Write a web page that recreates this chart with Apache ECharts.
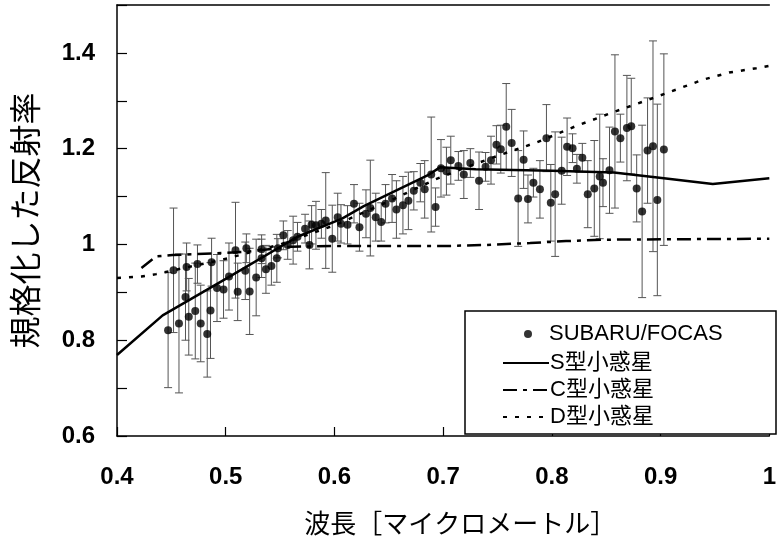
<!DOCTYPE html>
<html>
<head>
<meta charset="utf-8">
<script src="https://cdn.jsdelivr.net/npm/echarts@6/dist/echarts.min.js"></script>
<style>
html,body{margin:0;padding:0;background:#fff;}
#chart{width:779px;height:541px;}
</style>
</head>
<body>
<div id="chart"></div>
<script>
// ---- data ----
const xTickLabels = ['0.4','0.5','0.6','0.7','0.8','0.9','1'];
const yTickLabels = ['0.6','0.8','1','1.2','1.4'];

// SUBARU/FOCAS observations (wavelength, normalized reflectance, error)
const obsX = [0.447,0.452,0.457,0.463,0.464,0.466,0.472,0.474,0.477,0.483,0.486,0.487,0.492,0.498,
  0.503,0.509,0.511,0.518,0.519,0.522,0.528,0.533,0.533,0.537,0.542,0.547,0.548,0.553,0.557,0.562,
  0.566,0.573,0.577,0.579,0.583,0.588,0.592,0.598,0.603,0.606,0.612,0.618,0.623,0.629,0.633,0.638,
  0.643,0.647,0.653,0.657,0.663,0.668,0.673,0.679,0.683,0.689,0.693,0.698,0.703,0.707,0.714,0.719,
  0.725,0.733,0.739,0.744,0.749,0.753,0.758,0.763,0.769,0.774,0.778,0.783,0.789,0.795,0.799,0.803,
  0.809,0.814,0.819,0.823,0.828,0.833,0.839,0.844,0.847,0.853,0.858,0.863,0.869,0.873,0.878,0.883,
  0.888,0.893,0.897,0.903];
const obsY = [0.821,0.946,0.835,0.890,0.953,0.849,0.861,0.959,0.835,0.813,0.862,0.963,0.909,0.906,
  0.933,0.988,0.901,0.945,0.992,0.902,0.931,0.990,0.971,0.948,0.955,0.971,0.992,1.019,0.999,1.009,
  1.016,1.033,0.999,1.041,1.040,1.043,1.050,1.012,1.057,1.043,1.041,1.085,1.036,1.064,1.076,1.057,
  1.047,1.085,1.096,1.073,1.082,1.091,1.112,1.129,1.115,1.146,1.078,1.159,1.153,1.176,1.164,1.146,
  1.170,1.133,1.162,1.176,1.208,1.199,1.246,1.212,1.096,1.177,1.095,1.129,1.115,1.222,1.087,1.105,
  1.154,1.204,1.201,1.158,1.181,1.105,1.117,1.142,1.129,1.155,1.236,1.222,1.243,1.247,1.117,1.069,
  1.196,1.205,1.093,1.198];
const obsErr = [0.12,0.13,0.145,0.09,0.05,0.08,0.10,0.04,0.08,0.09,0.10,0.05,0.07,0.06,
  0.07,0.10,0.06,0.06,0.03,0.09,0.08,0.03,0.04,0.05,0.04,0.05,0.02,0.03,0.03,0.05,
  0.03,0.03,0.05,0.04,0.05,0.03,0.10,0.07,0.05,0.04,0.04,0.04,0.05,0.05,0.10,0.05,
  0.04,0.04,0.05,0.06,0.06,0.06,0.04,0.04,0.06,0.12,0.04,0.06,0.05,0.05,0.03,0.05,
  0.03,0.06,0.03,0.05,0.04,0.05,0.09,0.07,0.10,0.06,0.05,0.03,0.06,0.07,0.08,0.13,
  0.07,0.06,0.03,0.03,0.03,0.07,0.10,0.13,0.05,0.09,0.16,0.05,0.11,0.10,0.07,0.18,
  0.11,0.22,0.20,0.20];

// S-type asteroid spectrum
const sX = [0.40,0.442,0.50,0.566,0.607,0.627,0.687,0.697,0.73,0.80,0.857,0.903,0.948,1.00];
const sY = [0.769,0.852,0.928,1.016,1.054,1.080,1.146,1.161,1.157,1.154,1.150,1.138,1.126,1.138];
// C-type asteroid spectrum
const cX = [0.4225,0.436,0.451,0.487,0.52,0.56,0.60,0.707,0.74,0.78,0.813,0.85,1.00];
const cY = [0.951,0.975,0.978,0.981,0.985,0.995,0.997,0.997,0.999,1.003,1.007,1.010,1.012];
// D-type asteroid spectrum
const dX = [0.40,0.4225,0.436,0.50,0.55,0.60,0.65,0.693,0.72,0.75,0.786,0.822,0.855,0.891,0.939,0.963,0.988,1.00];
const dY = [0.930,0.933,0.938,0.970,1.000,1.040,1.090,1.136,1.160,1.185,1.213,1.247,1.275,1.304,1.344,1.359,1.368,1.373];

const names = {obs:'SUBARU/FOCAS', s:'S型小惑星', c:'C型小惑星', d:'D型小惑星'};

// ---- build ----
const zip = (a,b)=>a.map((v,i)=>[v,b[i]]);
const obsData = obsX.map((v,i)=>[v,obsY[i],obsErr[i]]);
const numFont = "'Liberation Sans',Arial,sans-serif";
const cjkFont = "'Liberation Sans','Noto Sans CJK JP',sans-serif";

const chart = echarts.init(document.getElementById('chart'), null, {renderer:'canvas'});
const option = {
  animation:false,
  backgroundColor:'#fff',
  grid:{left:117, top:5, right:2, bottom:101, containLabel:false},
  xAxis:[{
    type:'value', min:0.4, max:1.0, interval:0.1,
    axisLine:{show:true, onZero:false, lineStyle:{color:'#000', width:1.5}},
    axisTick:{show:true, inside:true, length:9, lineStyle:{color:'#000', width:1.2}},
    splitLine:{show:false},
    axisLabel:{margin:29, fontFamily:numFont, fontSize:24, fontWeight:'bold', color:'#000',
      formatter:v=>xTickLabels[Math.round((v-0.4)*10)] || ''},
    name:'波長［マイクロメートル］', nameLocation:'middle', nameGap:74,
    nameTextStyle:{fontFamily:"'Noto Sans CJK JP',sans-serif", fontSize:26, color:'#000', padding:[0,0,0,34]}
  },{
    type:'value', position:'top', min:0.4, max:1.0,
    axisLine:{show:true, lineStyle:{color:'#000', width:1.5}},
    axisTick:{show:false}, axisLabel:{show:false}, splitLine:{show:false}
  }],
  yAxis:{
    type:'value', min:0.6, max:1.5, interval:0.1,
    axisLine:{show:true, onZero:false, lineStyle:{color:'#000', width:1.5}},
    axisTick:{show:true, inside:true, length:10, lineStyle:{color:'#000', width:1.2}},
    splitLine:{show:false},
    axisLabel:{margin:22, fontFamily:numFont, fontSize:24, fontWeight:'bold', color:'#000',
      formatter:v=>{const k=Math.round((v-0.6)*10); return (k%2===0 && k/2<yTickLabels.length)? yTickLabels[k/2] : '';}},
    name:'規格化した反射率', nameLocation:'middle', nameGap:76, nameRotate:90,
    nameTextStyle:{fontFamily:"'Noto Sans CJK JP',sans-serif", fontSize:32, color:'#000'}
  },
  legend:[{
    data:[names.obs], left:519, top:318, icon:'circle', itemWidth:8, itemHeight:8,
    textStyle:{fontFamily:cjkFont, fontSize:22, color:'#000', padding:[0,0,0,12]}, z:20
  },{
    data:[names.s, names.c, names.d], orient:'vertical', left:497, top:347, itemGap:5,
    itemWidth:46, itemHeight:12, itemStyle:{opacity:0},
    textStyle:{fontFamily:cjkFont, fontSize:22, color:'#000', padding:[0,0,0,-4]}, z:20
  }],
  graphic:[{
    type:'rect', z:15, shape:{x:465, y:311, width:311, height:123},
    style:{fill:'#fff', stroke:'#000', lineWidth:1.5}
  }],
  series:[
    {
      type:'custom', name:'err', silent:true, z:2,
      data:obsData, encode:{x:0, y:1},
      renderItem:(params, api)=>{
        const x=api.value(0), y=api.value(1), e=api.value(2);
        const t=api.coord([x,y+e]), b=api.coord([x,y-e]);
        const w=4;
        const st={stroke:'#555', lineWidth:1};
        return {type:'group', children:[
          {type:'line', shape:{x1:t[0],y1:t[1],x2:b[0],y2:b[1]}, style:st},
          {type:'line', shape:{x1:t[0]-w,y1:t[1],x2:t[0]+w,y2:t[1]}, style:st},
          {type:'line', shape:{x1:b[0]-w,y1:b[1],x2:b[0]+w,y2:b[1]}, style:st}
        ]};
      }
    },
    {type:'scatter', name:names.obs, data:obsData.map(d=>[d[0],d[1]]), symbol:'circle', symbolSize:8,
      itemStyle:{color:'#000'}, z:4},
    {type:'line', name:names.s, data:zip(sX,sY), symbol:'none', smooth:false,
      lineStyle:{color:'#000', width:2.5}, itemStyle:{color:'#000'}, z:3},
    {type:'line', name:names.c, data:zip(cX,cY), symbol:'none',
      lineStyle:{color:'#000', width:2.5, type:[14,6,4,6]}, itemStyle:{color:'#000'}, z:3},
    {type:'line', name:names.d, data:zip(dX,dY), symbol:'none',
      lineStyle:{color:'#000', width:2.5, type:[4,8]}, itemStyle:{color:'#000'}, z:3}
  ]
};
chart.setOption(option);
</script>
</body>
</html>
